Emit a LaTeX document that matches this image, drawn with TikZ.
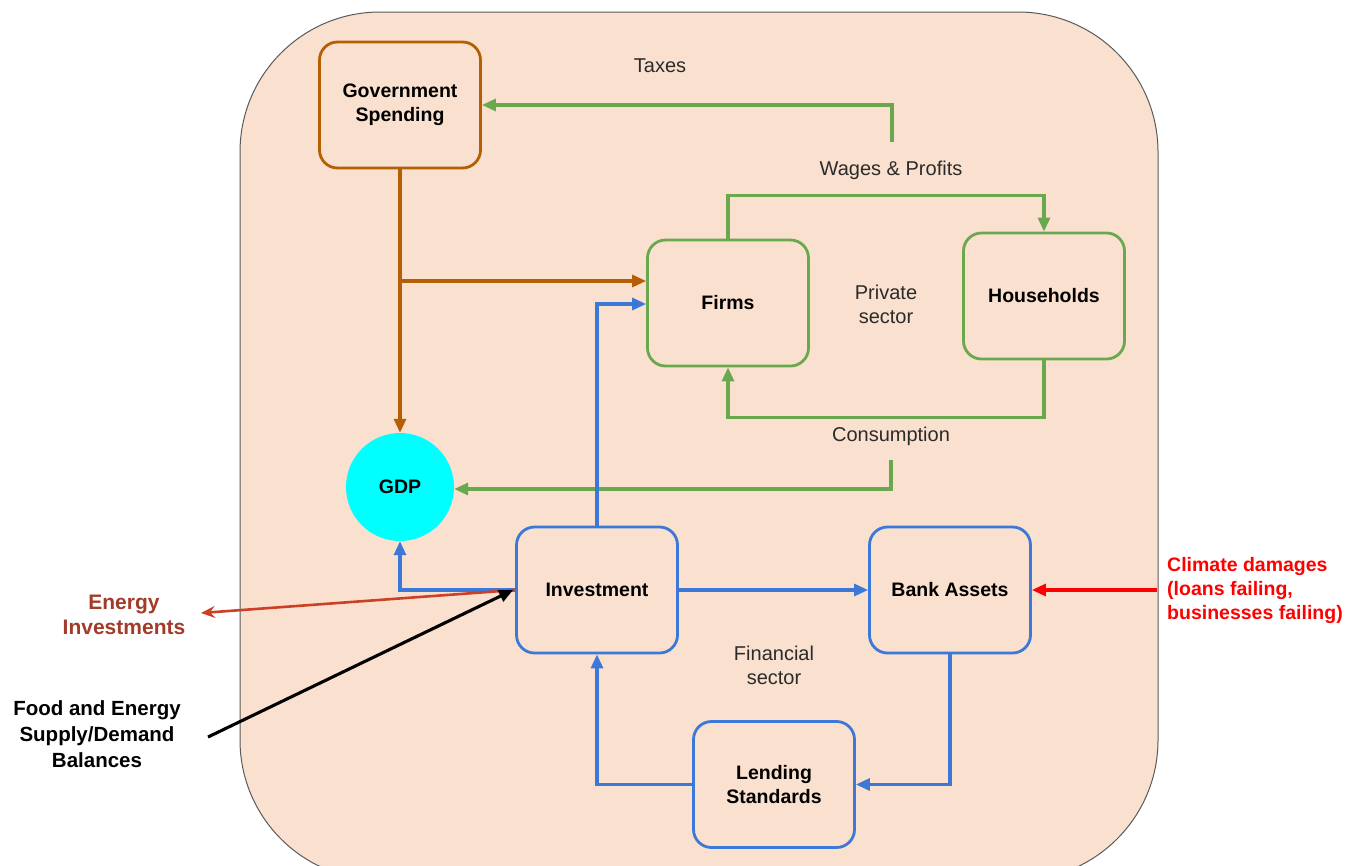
\documentclass[tikz,border=0pt]{standalone}
\usepackage{fontspec}
\setmainfont{Liberation Sans}
\usetikzlibrary{arrows.meta,calc}
\definecolor{bgpeach}{HTML}{FAE0CE}
\definecolor{bgline}{HTML}{5A5A5A}
\definecolor{gorange}{HTML}{B45F06}
\definecolor{ggreen}{HTML}{6AA84F}
\definecolor{gblue}{HTML}{3C78D8}
\definecolor{gred}{HTML}{FF0000}
\definecolor{gcyan}{HTML}{00FFFF}
\definecolor{enarrow}{HTML}{CC4125}
\definecolor{entext}{HTML}{A33B2A}
\definecolor{txtgray}{HTML}{2B2B2B}
\tikzset{
  boxnode/.style={draw=#1, line width=2.8pt, rounded corners=18pt, minimum width=161pt, minimum height=126pt, align=center, inner sep=0pt, font=\fontsize{19.5}{24}\selectfont\bfseries, text=black},
  flow/.style={draw=#1, line width=3.1pt, -{Triangle[length=14pt,width=12pt]}},
  lbl/.style={align=center, text=txtgray, inner sep=0pt, font=\fontsize{20}{23.5}\selectfont},
  blbl/.style={align=center, inner sep=0pt, font=\fontsize{19.5}{24}\selectfont\bfseries},
  sidelbl/.style={align=center, inner sep=0pt, font=\fontsize{20.5}{26}\selectfont\bfseries}
}
\begin{document}
\begin{tikzpicture}[x=1pt,y=-1pt]
\useasboundingbox (0,0) rectangle (1354,865);
% background
\draw[bgline, fill=bgpeach, line width=1pt, rounded corners=140pt] (240,12) rectangle (1158,880);

% nodes
\node[boxnode=gorange] (gov) at (400,105) {Government\\Spending};
\node[boxnode=ggreen] (firms) at (728,303) {Firms};
\node[boxnode=ggreen] (hh) at (1044,296) {Households};
\node[circle, fill=gcyan, minimum size=108pt, inner sep=0pt, font=\fontsize{19.5}{24}\selectfont\bfseries] (gdp) at (400,487) {GDP};
\node[boxnode=gblue] (inv) at (597,590) {Investment};
\node[boxnode=gblue] (bank) at (950,590) {Bank Assets};
\node[boxnode=gblue] (lend) at (774,784.5) {Lending\\Standards};

% labels
\node[lbl] (taxes) at (660,66) {Taxes};
\node[lbl] (wages) at (891,170) {Wages \& Profits};
\node[lbl] (private) at (886,304.5) {Private\\sector};
\node[lbl] (consumption) at (891,436) {Consumption};
\node[lbl] (financial) at (774,665.5) {Financial\\sector};
\node[sidelbl, text=entext, font=\fontsize{21}{25}\selectfont\bfseries] (energy) at (124,614.5) {Energy\\Investments};
\node[sidelbl, text=black] (food) at (97,734) {Food and Energy\\Supply/Demand\\Balances};
\node[blbl, text=gred, align=left, anchor=west] (climate) at (1167,590) {Climate damages\\(loans failing,\\businesses failing)};

% coordinates for free ends
\coordinate (taxstart) at (892,142);
\coordinate (consstart) at (891,460);
\coordinate (br) at (400,281);
\coordinate (climstart) at (1157,590);
\coordinate (energyend) at (201,613);
\coordinate (foodstart) at (208,737);

% green flows
\draw[flow=ggreen] (taxstart) |- (gov.east);
\draw[flow=ggreen] (firms.north) -- ++(0,-43) -| (hh.north);
\draw[flow=ggreen] (hh.south) -- ++(0,57) -| (firms.south);
\draw[flow=ggreen] (consstart) |- ([yshift=-2pt]gdp.east);

% orange flows
\draw[flow=gorange] (gov.south) -- (gdp.north);
\draw[flow=gorange] (br) -- (br -| firms.west);

% blue flows
\draw[flow=gblue] (inv.north) |- ([yshift=-1pt]firms.west);
\draw[flow=gblue] (inv.west) -| (gdp.south);
\draw[flow=gblue] (inv.east) -- (bank.west);
\draw[flow=gblue] (bank.south) |- (lend.east);
\draw[flow=gblue] (lend.west) -| (inv.south);

% external flows
\draw[flow=gred] (climstart) -- (bank.east);
\draw[draw=enarrow, line width=2.6pt, -{Stealth[length=14pt,width=12pt,inset=5pt]}] (inv.west) -- (energyend);
\draw[flow=black] (foodstart) -- ([xshift=-2pt]inv.west);
\end{tikzpicture}
\end{document}
